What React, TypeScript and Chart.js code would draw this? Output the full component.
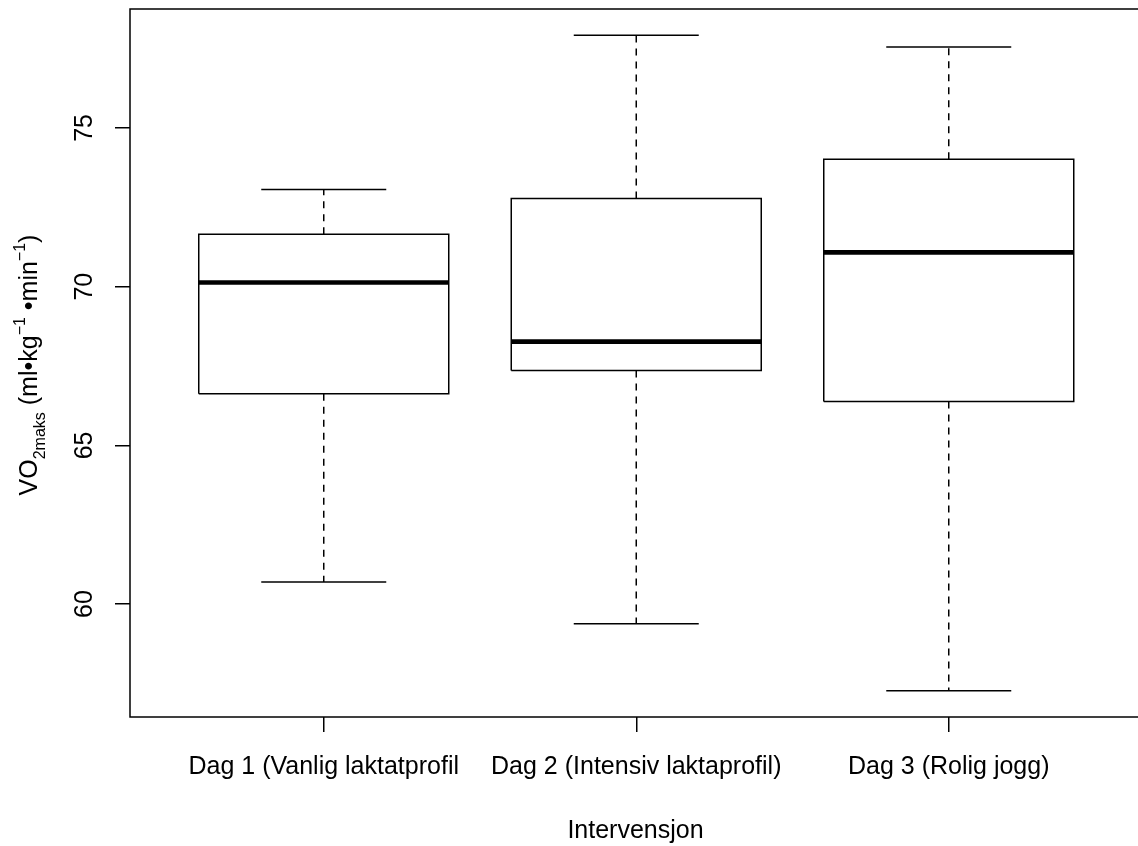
import React, { useEffect, useRef } from "react";
import { Chart, registerables } from "chart.js";

Chart.register(...registerables);

// ---- data ----
const categories = [
  "Dag 1 (Vanlig laktatprofil",
  "Dag 2 (Intensiv laktaprofil)",
  "Dag 3 (Rolig jogg)",
];
const positions = [1, 2, 3];
const whiskerLow = [60.7, 59.38, 57.27];
const q1 = [66.63, 67.36, 66.38];
const median = [70.13, 68.27, 71.08];
const q3 = [71.65, 72.78, 74.01];
const whiskerHigh = [73.06, 77.92, 77.55];
const yTicks = [60, 65, 70, 75];
const xTitle = "Intervensjon";
const yTitleParts = [
  { text: "VO", kind: "main" },
  { text: "2maks", kind: "sub" },
  { text: " (ml\u2022kg", kind: "main" },
  { text: "\u22121", kind: "sup" },
  { text: " \u2022min", kind: "main" },
  { text: "\u22121", kind: "sup" },
  { text: ")", kind: "main" },
];

const FONT = "'Liberation Sans', Arial, Helvetica, sans-serif";
const MAIN_SIZE = 25;
const SMALL_SIZE = 16;

const n = categories.length;
const dataLo = Math.min(...whiskerLow);
const dataHi = Math.max(...whiskerHigh);
const yPad = 0.04 * (dataHi - dataLo);
const yMin = dataLo - yPad;
const yMax = dataHi + yPad;
const xMin = 0.5 - 0.04 * n;
const xMax = n + 0.5 + 0.04 * n;

const BOX_HALF = 0.4;
const CAP_HALF = 0.2;

function lineDs(points: { x: number; y: number }[], extra: any = {}) {
  return {
    data: points,
    showLine: true,
    pointRadius: 0,
    borderColor: "#000",
    borderWidth: 1.5,
    fill: false,
    tension: 0,
    borderJoinStyle: "miter",
    borderCapStyle: "butt",
    ...extra,
  };
}

function buildDatasets() {
  const ds: any[] = [];
  positions.forEach((x, i) => {
    // whiskers (dashed)
    ds.push(lineDs([{ x, y: q3[i] }, { x, y: whiskerHigh[i] }], { borderDash: [7, 6] }));
    ds.push(lineDs([{ x, y: q1[i] }, { x, y: whiskerLow[i] }], { borderDash: [7, 6] }));
    // caps
    ds.push(lineDs([{ x: x - CAP_HALF, y: whiskerHigh[i] }, { x: x + CAP_HALF, y: whiskerHigh[i] }]));
    ds.push(lineDs([{ x: x - CAP_HALF, y: whiskerLow[i] }, { x: x + CAP_HALF, y: whiskerLow[i] }]));
    // box
    ds.push(
      lineDs([
        { x: x - BOX_HALF, y: q1[i] },
        { x: x + BOX_HALF, y: q1[i] },
        { x: x + BOX_HALF, y: q3[i] },
        { x: x - BOX_HALF, y: q3[i] },
        { x: x - BOX_HALF, y: q1[i] },
      ])
    );
    // median
    ds.push(lineDs([{ x: x - BOX_HALF, y: median[i] }, { x: x + BOX_HALF, y: median[i] }], { borderWidth: 4.7 }));
  });
  return ds;
}

const framePlugin = {
  id: "rframe",
  afterDraw(chart: any) {
    const { ctx } = chart;
    const { left, top, right, bottom } = chart.chartArea;
    ctx.save();
    ctx.strokeStyle = "#000";
    ctx.lineWidth = 1.5;
    ctx.strokeRect(left, top, right - left, bottom - top);

    // x title
    ctx.fillStyle = "#000";
    ctx.font = `${MAIN_SIZE}px ${FONT}`;
    ctx.textAlign = "center";
    ctx.textBaseline = "alphabetic";
    ctx.fillText(xTitle, 635.5, 838);

    // y title with sub/superscripts, rotated
    const parts = yTitleParts.map((p) => {
      const size = p.kind === "main" ? MAIN_SIZE : SMALL_SIZE;
      ctx.font = `${size}px ${FONT}`;
      return { ...p, size, w: ctx.measureText(p.text).width };
    });
    const total = parts.reduce((s, p) => s + p.w, 0);
    const cy = (top + bottom) / 2 + 2;
    const baseX = 37;
    ctx.translate(baseX, cy);
    ctx.rotate(-Math.PI / 2);
    ctx.textAlign = "left";
    let cx = -total / 2;
    parts.forEach((p) => {
      ctx.font = `${p.size}px ${FONT}`;
      const dy = p.kind === "sub" ? 8 : p.kind === "sup" ? -12 : 0;
      ctx.fillText(p.text, cx, dy);
      cx += p.w;
    });
    ctx.restore();
  },
};

export default function App() {
  const ref = useRef<HTMLCanvasElement | null>(null);

  useEffect(() => {
    document.body.style.margin = "0";
    document.body.style.overflow = "hidden";
    const canvas = ref.current;
    if (!canvas) return;
    Chart.defaults.font.family = FONT;
    const chart = new Chart(canvas, {
      type: "scatter",
      data: { datasets: buildDatasets() },
      plugins: [framePlugin],
      options: {
        responsive: false,
        animation: false,
        devicePixelRatio: 1,
        layout: { padding: { top: 9, right: 9.5, left: 0, bottom: 0 } },
        plugins: { legend: { display: false }, tooltip: { enabled: false } },
        scales: {
          x: {
            type: "linear",
            min: xMin,
            max: xMax,
            afterBuildTicks: (s: any) => {
              s.ticks = positions.map((v) => ({ value: v }));
            },
            afterFit: (s: any) => {
              s.height = 129;
              s.paddingLeft = 0;
              s.paddingRight = 0;
            },
            ticks: {
              callback: (_v: any, i: number) => categories[i],
              font: { size: MAIN_SIZE, family: FONT },
              color: "#000",
              padding: 20,
              minRotation: 0,
              maxRotation: 0,
              autoSkip: false,
            },
            grid: { drawOnChartArea: false, drawTicks: true, tickLength: 15, color: "#000", lineWidth: 1.5 },
            border: { display: false },
          },
          y: {
            type: "linear",
            min: yMin,
            max: yMax,
            afterBuildTicks: (s: any) => {
              s.ticks = yTicks.map((v) => ({ value: v }));
            },
            afterFit: (s: any) => {
              s.width = 130;
              s.paddingTop = 0;
              s.paddingBottom = 0;
            },
            ticks: {
              callback: (v: any) => String(v),
              font: { size: MAIN_SIZE, family: FONT },
              color: "#000",
              padding: 16,
              minRotation: 90,
              maxRotation: 90,
              crossAlign: "center",
            },
            grid: { drawOnChartArea: false, drawTicks: true, tickLength: 15, color: "#000", lineWidth: 1.5 },
            border: { display: false },
          },
        },
      } as any,
    });
    return () => chart.destroy();
  }, []);

  return <canvas ref={ref} width={1152} height={846} style={{ display: "block" }} />;
}
